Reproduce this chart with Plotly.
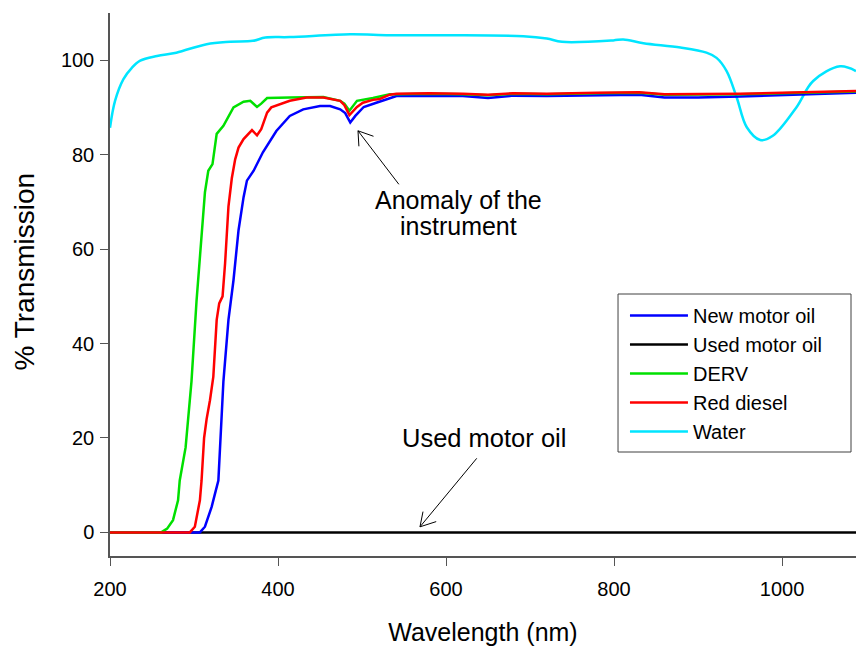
import plotly.graph_objects as go

# ---- data ----
new_oil_x = [200, 307, 313, 321, 325, 329, 335, 341, 347, 353, 359, 363, 371, 382, 398, 414, 430, 450,
             462, 474, 480, 486, 492, 502, 517, 533, 541, 580, 620, 650, 680, 720, 780, 830, 860, 900,
             950, 1000, 1050, 1088]
new_oil_y = [0, 0, 1.2, 5.4, 8.2, 11, 32, 45, 53.4, 64, 71, 74.5, 76.6, 80.5, 85, 88.2, 89.6, 90.3,
             90.3, 89.6, 88.8, 86.8, 88.2, 90.1, 91, 92, 92.4, 92.5, 92.4, 92.0, 92.5, 92.4, 92.6, 92.7,
             92.1, 92.1, 92.3, 92.6, 92.9, 93.1]

used_oil_x = [200, 300, 400, 500, 600, 700, 800, 900, 1000, 1088]
used_oil_y = [0, 0, 0, 0, 0, 0, 0, 0, 0, 0]

derv_x = [200, 261, 268, 275, 281, 283, 290, 297, 303, 309, 313, 317, 322, 327, 335, 347, 359, 367,
          375, 380, 387, 414, 454, 474, 479, 485, 494, 513, 525, 533, 541, 580, 620, 650, 680, 720,
          780, 830, 860, 900, 950, 1000, 1050, 1088]
derv_y = [0, 0, 0.8, 2.6, 6.8, 11, 18, 32, 49, 64, 72, 76.6, 78, 84.4, 86.1, 90, 91.2, 91.4,
          90.1, 90.8, 92, 92.1, 92.2, 91.4, 90.8, 89.3, 91.4, 92, 92.5, 92.8, 92.8, 92.9, 92.8, 92.6,
          92.9, 92.8, 93.0, 93.1, 92.7, 92.7, 92.8, 93.0, 93.2, 93.4]

red_x = [200, 295, 301, 307, 309, 312, 315, 319, 323, 327, 330, 334, 337, 341, 345, 349, 353, 359,
         369, 375, 380, 387, 392, 414, 434, 454, 474, 479, 485, 494, 501, 513, 521, 533, 541, 580,
         620, 650, 680, 720, 780, 830, 860, 900, 950, 1000, 1050, 1088]
red_y = [0, 0, 1.2, 6.8, 11, 20, 24, 28, 33, 45, 48.5, 50, 57, 69, 75, 79, 81.5, 83.3,
         85.2, 84.1, 85.4, 88.9, 90, 91.4, 92.1, 92.1, 91.4, 90.5, 88.4, 90.1, 91, 91.6, 91.8, 92.7,
         92.9, 93.0, 92.9, 92.7, 93.0, 92.9, 93.1, 93.2, 92.8, 92.8, 92.9, 93.1, 93.3, 93.5]

water_x = [200, 206, 216, 226, 236, 256, 279, 315, 343, 370, 385, 414, 486, 533, 600, 692, 720, 738,
           799, 811, 835, 879, 910, 922, 934, 946, 958, 974, 989, 1017, 1037, 1069, 1088]
water_y = [85.7, 91.4, 96, 98.4, 99.9, 100.9, 101.6, 103.4, 103.9, 104.1, 104.8, 104.9, 105.5, 105.3,
           105.3, 105.1, 104.6, 103.9, 104.2, 104.4, 103.6, 102.7, 101.6, 100.5, 97.7, 92.1, 85.8,
           83.1, 84, 90, 95.6, 98.7, 97.7]

x_ticks = [200, 400, 600, 800, 1000]
y_ticks = [0, 20, 40, 60, 80, 100]

FONT = "Arial, Liberation Sans, sans-serif"
AXC = "#555555"
LW = 2.5

fig = go.Figure()
# draw order: black, water, blue, green, red (red on top); legend order via legendrank
fig.add_trace(go.Scatter(x=used_oil_x, y=used_oil_y, mode="lines", name="Used motor oil",
                         line=dict(color="black", width=LW), legendrank=2))
fig.add_trace(go.Scatter(x=water_x, y=water_y, mode="lines", name="Water", line_shape="spline",
                         line=dict(color="#00E5FF", width=LW), legendrank=5))
fig.add_trace(go.Scatter(x=new_oil_x, y=new_oil_y, mode="lines", name="New motor oil",
                         line=dict(color="#0000FF", width=LW), legendrank=1))
fig.add_trace(go.Scatter(x=derv_x, y=derv_y, mode="lines", name="DERV",
                         line=dict(color="#00E000", width=LW), legendrank=3))
fig.add_trace(go.Scatter(x=red_x, y=red_y, mode="lines", name="Red diesel",
                         line=dict(color="#FF0000", width=LW), legendrank=4))

fig.update_layout(
    width=856, height=646,
    margin=dict(l=110, r=0, t=13, b=90),
    paper_bgcolor="white", plot_bgcolor="white",
    font=dict(family=FONT, size=20, color="black"),
    showlegend=True,
    legend=dict(x=0.6903, y=0.479, xanchor="left", yanchor="top",
                bgcolor="rgba(0,0,0,0)", borderwidth=0,
                font=dict(family=FONT, size=20), itemwidth=58),
    xaxis=dict(range=[200, 1088], tickvals=x_ticks, showgrid=False, zeroline=False,
               showline=True, linecolor=AXC, linewidth=1.5,
               ticks="outside", ticklen=8, tickwidth=1.2, tickcolor=AXC,
               ticklabelstandoff=6,
               tickfont=dict(size=20, family=FONT),
               title=dict(text="Wavelength (nm)", font=dict(size=25, family=FONT), standoff=29)),
    yaxis=dict(range=[-5, 110], tickvals=y_ticks, showgrid=False, zeroline=False,
               showline=True, linecolor=AXC, linewidth=1.5,
               ticks="outside", ticklen=8, tickwidth=1.2, tickcolor=AXC,
               ticklabelstandoff=2,
               tickfont=dict(size=20, family=FONT)),
)

# legend frame
fig.add_shape(type="rect", xref="paper", yref="paper", x0=0.681, x1=0.9933, y0=0.1915, y1=0.4825,
              line=dict(color="#404040", width=1), fillcolor="white", layer="below")

# y-axis title (placed as in the reference)
fig.add_annotation(xref="paper", yref="paper", x=-0.1153, y=0.524, text="% Transmission",
                   textangle=-90, showarrow=False, xanchor="center", yanchor="middle",
                   font=dict(size=28, family=FONT))

# text annotations
fig.add_annotation(x=614.7, y=70.4, text="Anomaly of the", showarrow=False,
                   font=dict(size=25, family=FONT), xanchor="center", yanchor="middle")
fig.add_annotation(x=614.7, y=64.8, text="instrument", showarrow=False,
                   font=dict(size=25, family=FONT), xanchor="center", yanchor="middle")
fig.add_annotation(x=645, y=19.9, text="Used motor oil", showarrow=False,
                   font=dict(size=25.5, family=FONT), xanchor="center", yanchor="middle")

# arrows (shaft + open V head), tip in data coords, tail offsets in pixels
def arrow(tx, ty, shaft, heads):
    for (dx, dy) in [shaft] + heads:
        fig.add_annotation(x=tx, y=ty, ax=dx, ay=dy, text="", showarrow=True, arrowhead=0,
                           arrowwidth=1, arrowcolor="black", standoff=0, startstandoff=0)

arrow(495.2, 85.05, (42, 55), [(17, 6), (1, 17)])
arrow(569, 1.18, (58, -70), [(17.7, -5.7), (3.3, -16.7)])

fig.write_html("out.html")
